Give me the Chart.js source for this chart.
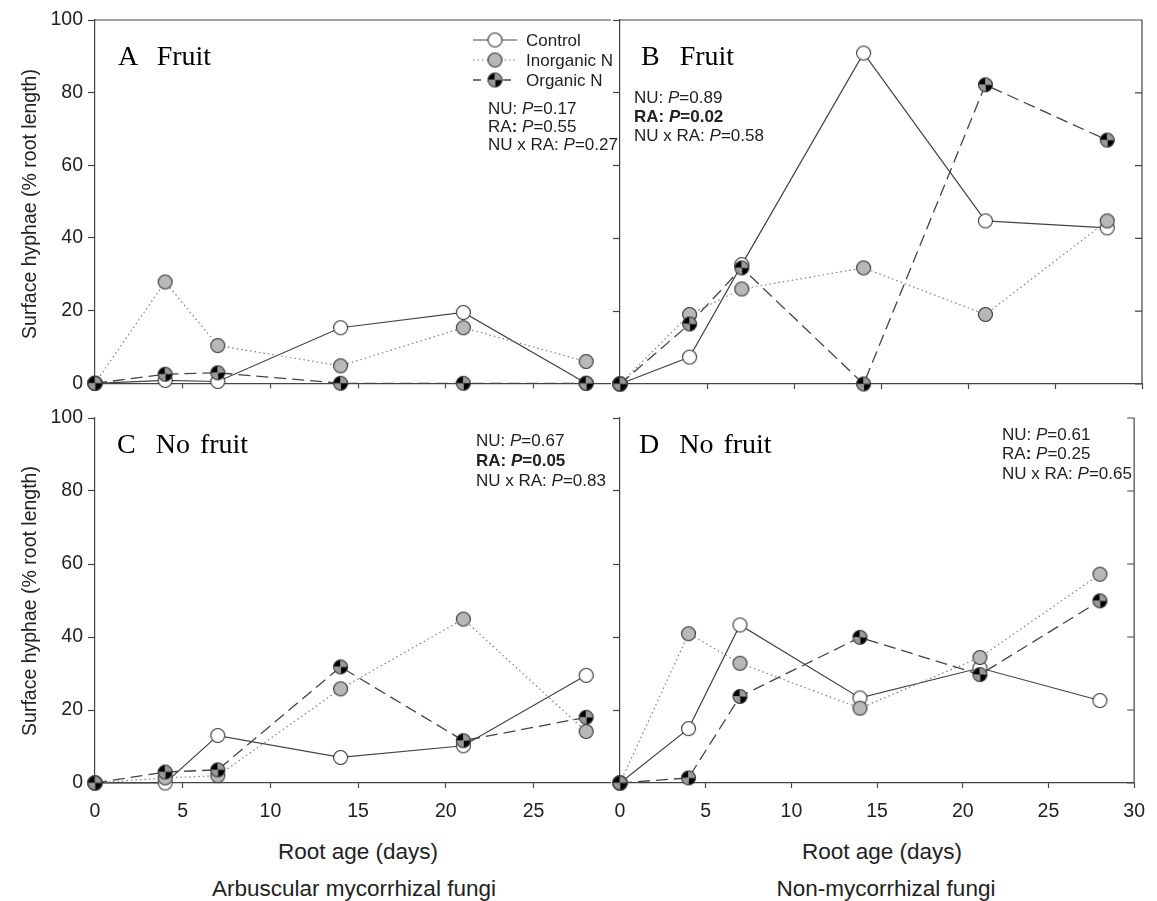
<!DOCTYPE html>
<html lang="en">
<head>
<meta charset="UTF-8" />
<title>Surface hyphae by root age</title>
<script src="https://cdn.jsdelivr.net/npm/chart.js"></script>
<style>
    body { margin: 0; background: #fff; }
    #wrap { position: relative; width: 1157px; height: 901px; overflow: hidden;
            font-family: "Liberation Sans", Arial, sans-serif; color: #222; }
    #wrap canvas { position: absolute; }
    .t { position: absolute; white-space: pre; line-height: 1; transform: translateY(-50%); }
    .stat { font-size: 17px; }
    .lg { font-size: 17px; }
    .panel { font-family: "Liberation Serif", "Times New Roman", serif; font-size: 28px; color: #000; word-spacing: 3px; }
    .ctr { transform: translate(-50%, -50%); font-size: 22.5px; }
    .ytitle { transform: translate(-50%, -50%) rotate(-90deg); font-size: 19.5px; }
</style>
</head>
<body>
<div id="wrap">
    <canvas id="cA" width="620" height="400" style="left:0;top:0"></canvas>
    <canvas id="cB" width="557" height="400" style="left:600px;top:0"></canvas>
    <canvas id="cC" width="620" height="420" style="left:0;top:400px"></canvas>
    <canvas id="cD" width="557" height="420" style="left:600px;top:400px"></canvas>

    <div class="t panel" style="left:118px;top:56px">A  Fruit</div>
    <div class="t panel" style="left:641px;top:56px">B  Fruit</div>
    <div class="t panel" style="left:117px;top:444px">C  No fruit</div>
    <div class="t panel" style="left:639px;top:444px">D  No fruit</div>

    <div class="t lg" style="left:526px;top:40px">Control</div>
    <div class="t lg" style="left:526px;top:60px">Inorganic N</div>
    <div class="t lg" style="left:526px;top:80px">Organic N</div>

    <div class="t stat" style="left:488px;top:108px">NU: <i>P</i>=0.17</div>
    <div class="t stat" style="left:488px;top:126px">RA<b>:</b> <i>P</i>=0.55</div>
    <div class="t stat" style="left:488px;top:144px">NU x RA: <i>P</i>=0.27</div>

    <div class="t stat" style="left:634px;top:97px">NU: <i>P</i>=0.89</div>
    <div class="t stat" style="left:634px;top:116px"><b>RA: <i>P</i>=0.02</b></div>
    <div class="t stat" style="left:634px;top:135px">NU x RA: <i>P</i>=0.58</div>

    <div class="t stat" style="left:476px;top:440px">NU: <i>P</i>=0.67</div>
    <div class="t stat" style="left:476px;top:460px"><b>RA: <i>P</i>=0.05</b></div>
    <div class="t stat" style="left:476px;top:480px">NU x RA: <i>P</i>=0.83</div>

    <div class="t stat" style="left:1002px;top:434px">NU: <i>P</i>=0.61</div>
    <div class="t stat" style="left:1002px;top:453px">RA<b>:</b> <i>P</i>=0.25</div>
    <div class="t stat" style="left:1002px;top:473px">NU x RA: <i>P</i>=0.65</div>

    <div class="t ytitle" style="left:30px;top:204px">Surface hyphae (% root length)</div>
    <div class="t ytitle" style="left:30px;top:601px">Surface hyphae (% root length)</div>
    <div class="t ctr" style="left:358px;top:852px">Root age (days)</div>
    <div class="t ctr" style="left:882px;top:852px">Root age (days)</div>
    <div class="t ctr" style="left:354px;top:889px">Arbuscular mycorrhizal fungi</div>
    <div class="t ctr" style="left:886px;top:889px">Non-mycorrhizal fungi</div>
</div>

<script>
    // root age in days
    const days = [0, 4, 7, 14, 21, 28];

    const yTicks = [0, 20, 40, 60, 80, 100];
    const xTicksLeft = [0, 5, 10, 15, 20, 25];
    const xTicksRight = [0, 5, 10, 15, 20, 25, 30];

    // A: arbuscular mycorrhizal, fruit
    const aControl = [0, 0.8, 0.5, 15.3, 19.5, 0];
    const aInorganic = [0, 27.9, 10.4, 4.8, 15.3, 6];
    const aOrganic = [0, 2.5, 2.9, 0, 0, 0];

    // B: non-mycorrhizal, fruit
    const bControl = [0, 7.4, 32.8, 90.9, 44.8, 42.9];
    const bInorganic = [0, 19.1, 26.1, 31.9, 19.1, 44.8];
    const bOrganic = [0, 16.5, 31.9, 0, 82.2, 67];

    // C: arbuscular mycorrhizal, no fruit
    const cControl = [0, 0, 13, 7, 10.2, 29.5];
    const cInorganic = [0, 1.4, 2, 25.8, 44.9, 14.1];
    const cOrganic = [0, 3, 3.6, 31.8, 11.6, 18];

    // D: non-mycorrhizal, no fruit
    const dControl = [0, 14.9, 43.3, 23.3, 31.5, 22.6];
    const dInorganic = [0, 40.9, 32.8, 20.5, 34.4, 57.2];
    const dOrganic = [0, 1.4, 23.7, 39.9, 29.7, 49.9];

    const AXIS = "#444";
    const FONT = "'Liberation Sans', Arial, sans-serif";

    // marker images
    function marker(kind) {
        const c = document.createElement("canvas");
        c.width = 17; c.height = 17;
        const g = c.getContext("2d");
        const m = 8.5, r = 7;
        if (kind === "organic") {
            const quads = [[Math.PI, 1.5 * Math.PI, "#000"], [1.5 * Math.PI, 2 * Math.PI, "#9a9a9a"],
                           [0, 0.5 * Math.PI, "#000"], [0.5 * Math.PI, Math.PI, "#9a9a9a"]];
            quads.forEach(q => {
                g.beginPath(); g.moveTo(m, m); g.arc(m, m, r, q[0], q[1]); g.closePath();
                g.fillStyle = q[2]; g.fill();
            });
        } else {
            g.beginPath(); g.arc(m, m, r, 0, 2 * Math.PI);
            g.fillStyle = kind === "control" ? "#fff" : "#b8b8b8";
            g.fill();
        }
        g.beginPath(); g.arc(m, m, r, 0, 2 * Math.PI);
        g.lineWidth = 1.1; g.strokeStyle = "#333"; g.stroke();
        return c;
    }

    const styles = {
        control: { borderColor: "#444", borderWidth: 1.2, borderDash: [], img: marker("control") },
        inorganic: { borderColor: "#808080", borderWidth: 1.2, borderDash: [1.5, 3], img: marker("inorganic") },
        organic: { borderColor: "#444", borderWidth: 1.3, borderDash: [12, 6], img: marker("organic") }
    };

    function series(kind, values) {
        const s = styles[kind];
        return {
            label: kind,
            data: days.map((d, i) => ({ x: d, y: values[i] })),
            borderColor: s.borderColor,
            borderWidth: s.borderWidth,
            borderDash: s.borderDash,
            pointStyle: s.img,
            pointRadius: 8,
            tension: 0,
            clip: false
        };
    }

    // top border, right border with inward ticks
    const frame = {
        id: "frame",
        afterDraw(chart, args, o) {
            const { ctx, chartArea: a, scales } = chart;
            ctx.save();
            ctx.strokeStyle = AXIS;
            ctx.lineWidth = 1.2;
            ctx.beginPath();
            if (o.top) {
                ctx.moveTo(a.left, a.top); ctx.lineTo(a.right, a.top);
            }
            if (o.right) {
                ctx.moveTo(a.right, a.top); ctx.lineTo(a.right, a.bottom);
                scales.y.ticks.forEach(t => {
                    const y = scales.y.getPixelForValue(t.value);
                    ctx.moveTo(a.right - 7, y); ctx.lineTo(a.right, y);
                });
            }
            ctx.stroke();
            ctx.restore();
        }
    };

    // legend symbols (line sample + marker) for panel A
    const legendSymbols = {
        id: "legendSymbols",
        afterDraw(chart, args, o) {
            if (!o.show) return;
            const ctx = chart.ctx;
            ["control", "inorganic", "organic"].forEach((k, i) => {
                const s = styles[k];
                const y = 40 + i * 20;
                ctx.save();
                ctx.strokeStyle = s.borderColor;
                ctx.lineWidth = s.borderWidth;
                ctx.setLineDash(k === "organic" ? [8, 22] : s.borderDash);
                ctx.beginPath(); ctx.moveTo(473, y); ctx.lineTo(517, y); ctx.stroke();
                ctx.restore();
                ctx.drawImage(s.img, 495 - 8.5, y - 8.5);
            });
        }
    };

    function panel(id, cfg) {
        return new Chart(document.getElementById(id), {
            type: "line",
            data: { datasets: [series("organic", cfg.organic), series("inorganic", cfg.inorganic), series("control", cfg.control)] },
            options: {
                responsive: false,
                animation: false,
                layout: { padding: { top: cfg.padTop, right: cfg.padRight, left: 0, bottom: 0 } },
                plugins: {
                    legend: { display: false },
                    tooltip: { enabled: false },
                    frame: { top: cfg.topBorder, right: cfg.rightBorder },
                    legendSymbols: { show: !!cfg.legend }
                },
                scales: {
                    x: {
                        type: "linear",
                        min: 0, max: cfg.xMax,
                        afterBuildTicks: s => { s.ticks = cfg.xTicks.map(v => ({ value: v })); },
                        afterFit: s => { s.height = cfg.xHeight; },
                        ticks: { display: cfg.xLabels, color: "#222", font: { family: FONT, size: 19.5 }, padding: 12, maxRotation: 0, autoSkip: false },
                        grid: { drawOnChartArea: false, drawTicks: true, tickLength: 5, tickColor: AXIS, tickWidth: 1.2 },
                        border: { color: AXIS, width: 1.2 }
                    },
                    y: {
                        type: "linear",
                        min: 0, max: 100,
                        afterBuildTicks: s => { s.ticks = yTicks.map(v => ({ value: v })); },
                        afterFit: s => { s.width = cfg.yWidth; },
                        ticks: { display: cfg.yLabels, color: "#222", font: { family: FONT, size: 19.5 }, padding: 5 },
                        grid: { drawOnChartArea: false, drawTicks: true, tickLength: 7, tickColor: AXIS, tickWidth: 1.2 },
                        border: { color: AXIS, width: 1.2 }
                    }
                }
            },
            plugins: [frame, legendSymbols]
        });
    }

    panel("cA", { control: aControl, inorganic: aInorganic, organic: aOrganic, xMax: 29.4, xTicks: xTicksLeft,
        padTop: 20, padRight: 1, yWidth: 95, xHeight: 16, xLabels: false, yLabels: true, topBorder: true, rightBorder: false, legend: true });
    panel("cB", { control: bControl, inorganic: bInorganic, organic: bOrganic, xMax: 30, xTicks: xTicksRight,
        padTop: 20, padRight: 15, yWidth: 20, xHeight: 16, xLabels: false, yLabels: false, topBorder: true, rightBorder: true });
    panel("cC", { control: cControl, inorganic: cInorganic, organic: cOrganic, xMax: 29.4, xTicks: xTicksLeft,
        padTop: 18, padRight: 1, yWidth: 95, xHeight: 37, xLabels: true, yLabels: true, topBorder: false, rightBorder: false });
    panel("cD", { control: dControl, inorganic: dInorganic, organic: dOrganic, xMax: 30, xTicks: xTicksRight,
        padTop: 18, padRight: 15, yWidth: 20, xHeight: 37, xLabels: true, yLabels: false, topBorder: false, rightBorder: true });
</script>
</body>
</html>
